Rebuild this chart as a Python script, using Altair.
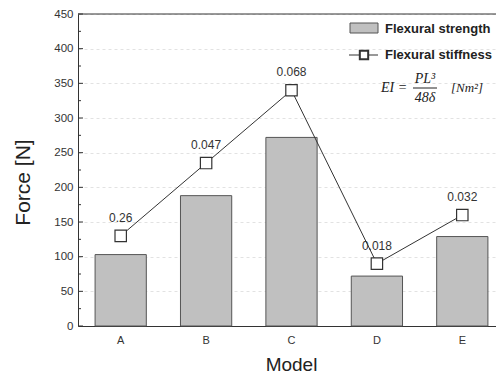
import altair as alt
import pandas as pd

models = ["A", "B", "C", "D", "E"]
strength = [103, 188, 272, 72, 129]
stiffness_pos = [130, 235, 340, 90, 160]
stiffness_labels = ["0.26", "0.047", "0.068", "0.018", "0.032"]
major_ticks = list(range(0, 451, 50))
minor_ticks = list(range(25, 451, 50))

df = pd.DataFrame({"Model": models, "strength": strength,
                   "pos": stiffness_pos, "label": stiffness_labels})
ticks_major = pd.DataFrame({"v": major_ticks})
ticks_minor = pd.DataFrame({"v": minor_ticks})
one = pd.DataFrame({"k": [0]})

FONT = "Liberation Sans"
DARK = "#333333"
W = 418

xscale = alt.Scale(paddingInner=0.4, paddingOuter=0.2, range=[0, 427])
yscale = alt.Scale(domain=[0, 450], nice=False)

x_axis = alt.Axis(labelAngle=0, title="Model", ticks=False,
                  labelFont=FONT, labelFontSize=11, labelColor=DARK,
                  labelPadding=8, titleFont=FONT, titleFontSize=19,
                  titleFontWeight="normal", titleColor="#222222",
                  titleX=213, titleY=38, titleBaseline="middle",
                  domainColor=DARK, grid=False)
y_axis = alt.Axis(values=major_ticks, title="Force [N]", ticks=False,
                  labelFont=FONT, labelFontSize=11.5, labelColor=DARK,
                  labelPadding=5, titleFont=FONT, titleFontSize=21,
                  titleFontWeight="normal", titleColor="#222222",
                  titleX=-55, titleY=168, titleBaseline="middle",
                  domainColor=DARK, grid=True, gridColor="#e2e2e2",
                  gridDash=[3, 3])


def X():
    return alt.X("Model:N", scale=xscale, sort=models, axis=x_axis)


def Y(field):
    return alt.Y(field, scale=yscale, axis=y_axis)


bars = alt.Chart(df).mark_bar(color="#c0c0c0", stroke="#555555", strokeWidth=1).encode(
    x=X(), y=Y("strength:Q"))

line = alt.Chart(df).mark_line(color=DARK, strokeWidth=1).encode(
    x=X(), y=Y("pos:Q"))

points = alt.Chart(df).mark_point(shape="square", filled=True, fill="white",
                                  stroke=DARK, strokeWidth=1.2, size=130, opacity=1).encode(
    x=X(), y=Y("pos:Q"))

labels = alt.Chart(df).mark_text(font=FONT, fontSize=12, color=DARK, dy=-18).encode(
    x=X(), y=Y("pos:Q"), text="label:N")

tick_major = alt.Chart(ticks_major).mark_rule(color=DARK, strokeWidth=1).encode(
    y=Y("v:Q"), x=alt.value(0), x2=alt.value(5))
tick_minor = alt.Chart(ticks_minor).mark_rule(color=DARK, strokeWidth=1).encode(
    y=Y("v:Q"), x=alt.value(0), x2=alt.value(3))

top_border = alt.Chart(one).mark_rule(color=DARK, strokeWidth=1).encode(
    x=alt.value(0), x2=alt.value(W), y=alt.value(0))

# Legend
leg_rect = alt.Chart(one).mark_rect(fill="#c0c0c0", stroke="#555555").encode(
    x=alt.value(272), x2=alt.value(300), y=alt.value(9), y2=alt.value(19))
leg_t1 = alt.Chart(one).mark_text(font=FONT, fontSize=13, fontWeight="bold",
                                  color="#222222", align="left", baseline="middle").encode(
    x=alt.value(307), y=alt.value(15), text=alt.value("Flexural strength"))
leg_line = alt.Chart(one).mark_rule(color=DARK).encode(
    x=alt.value(271), x2=alt.value(300), y=alt.value(41))
leg_pt = alt.Chart(one).mark_point(shape="square", filled=True, fill="white",
                                   stroke=DARK, size=70, opacity=1).encode(
    x=alt.value(286), y=alt.value(41))
leg_t2 = alt.Chart(one).mark_text(font=FONT, fontSize=13, fontWeight="bold",
                                  color="#222222", align="left", baseline="middle").encode(
    x=alt.value(307), y=alt.value(41), text=alt.value("Flexural stiffness"))

SERIF = "Liberation Serif"
f_ei = alt.Chart(one).mark_text(font=SERIF, fontSize=14, fontStyle="italic",
                                color="#222222", align="left", baseline="middle").encode(
    x=alt.value(303), y=alt.value(74), text=alt.value("EI ="))
f_num = alt.Chart(one).mark_text(font=SERIF, fontSize=14, fontStyle="italic",
                                 color="#222222", align="center", baseline="middle").encode(
    x=alt.value(347), y=alt.value(65), text=alt.value("PL³"))
f_bar = alt.Chart(one).mark_rule(color="#222222").encode(
    x=alt.value(335), x2=alt.value(359), y=alt.value(74))
f_den = alt.Chart(one).mark_text(font=SERIF, fontSize=14, fontStyle="italic",
                                 color="#222222", align="center", baseline="middle").encode(
    x=alt.value(347), y=alt.value(84), text=alt.value("48δ"))
f_unit = alt.Chart(one).mark_text(font=SERIF, fontSize=13, fontStyle="italic",
                                  color="#222222", align="left", baseline="middle").encode(
    x=alt.value(373), y=alt.value(74), text=alt.value("[Nm²]"))

chart = alt.layer(
    bars, tick_major, tick_minor, line, points, labels, top_border,
    leg_rect, leg_t1, leg_line, leg_pt, leg_t2,
    f_ei, f_num, f_bar, f_den, f_unit,
).properties(
    width=W, height=312,
    autosize=alt.AutoSizeParams(type="none"),
    padding={"left": 70, "top": 6, "right": 0, "bottom": 50},
).configure_view(stroke=None)

chart.save("out.html", embed_options={"renderer": "svg", "actions": False})
